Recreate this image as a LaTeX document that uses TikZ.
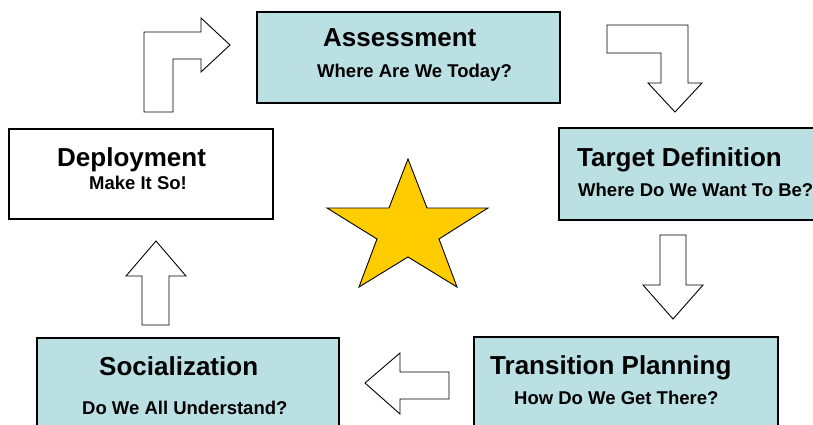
\documentclass[tikz,border=0pt]{standalone}
\usepackage{fontspec}
\setmainfont{Liberation Sans}
\usepackage{xcolor}
\usetikzlibrary{positioning}
\definecolor{stageblue}{HTML}{BBE0E3}
\definecolor{stargold}{HTML}{FFCC00}

\begin{document}
\begin{tikzpicture}[x=1pt, y=-1pt,
		stage/.style={draw, rectangle, line width=1.2pt, inner sep=0pt, outer sep=0pt},
		title/.style={anchor=base west, inner sep=0pt, font=\fontsize{26}{30}\selectfont\bfseries},
		subtitle/.style={anchor=base west, inner sep=0pt, font=\fontsize{18.5}{22}\selectfont\bfseries},
		blockarrow/.style={draw, fill=white, line width=0.9pt, line join=miter}]
			\clip (0,0) rectangle (813,425);

			% stage boxes
			\node[stage, fill=stageblue, minimum width=303, minimum height=91] (assess) at (408.5,57.5) {};
			\node[stage, fill=white, minimum width=264, minimum height=90] (deploy) at (141,174) {};
			\node[stage, fill=stageblue, minimum width=281, minimum height=92] (target) at (699.5,174) {};
			\node[stage, fill=stageblue, minimum width=304, minimum height=103] (transit) at (626,388.5) {};
			\node[stage, fill=stageblue, minimum width=302, minimum height=102] (social) at (188,389) {};

			% box texts
			\node[title] (assessT) at (323,47) {Assessment};
			\node[subtitle] (assessS) at (317,78) {Where Are We Today?};
			\node[title] (deployT) at (57,166) {Deployment};
			\node[subtitle] (deployS) at (89,189) {Make It So!};
			\node[title] (targetT) at (577,166) {Target Definition};
			\node[subtitle] (targetS) at (578,196) {Where Do We Want To Be?};
			\node[title] (transitT) at (490,374) {Transition Planning};
			\node[subtitle] (transitS) at (514,404) {How Do We Get There?};
			\node[title] (socialT) at (99,375) {Socialization};
			\node[subtitle] (socialS) at (82,414) {Do We All Understand?};

			% bent arrows
			\draw[blockarrow] (144,112) -- (144,32) -- (201,32) -- (201,18) -- (230,45)
				-- (201,72) -- (201,59) -- (173,59) -- (173,112) -- cycle;
			\draw[blockarrow] (607,25) -- (688,25) -- (688,83) -- (702,83) -- (675,112)
				-- (648,83) -- (661,83) -- (661,53) -- (607,53) -- cycle;

			% straight arrows
			\draw[blockarrow] (660,235) -- (686,235) -- (686,285) -- (703,285) -- (673,319)
				-- (643,285) -- (660,285) -- cycle;
			\draw[blockarrow] (449,372) -- (400,372) -- (400,353) -- (365,383)
				-- (400,414) -- (400,399) -- (449,399) -- cycle;
			\draw[blockarrow] (142,325) -- (142,276) -- (126,276) -- (156,241)
				-- (186,276) -- (169,276) -- (169,325) -- cycle;

			% star
			\draw[fill=stargold, line width=0.9pt, line join=miter] (408,159) -- (427,208) -- (488,208)
				-- (439,239) -- (457,287) -- (408,257) -- (359,287) -- (377,239)
				-- (327,208) -- (389,208) -- cycle;

		\end{tikzpicture}
\end{document}
